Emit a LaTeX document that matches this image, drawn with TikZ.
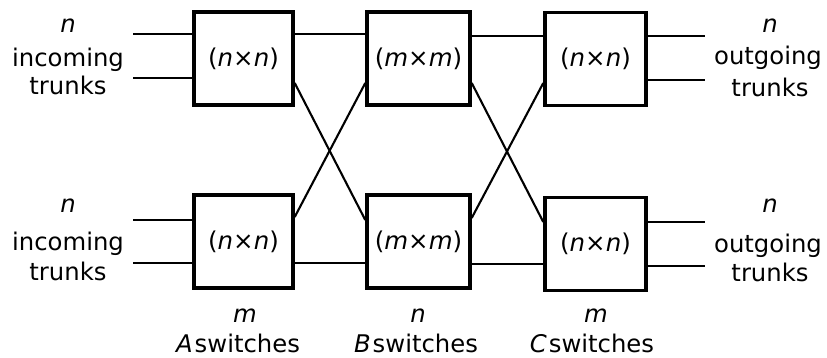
\documentclass[tikz,border=0pt]{standalone}
\usepackage{fontspec}
\setmainfont{DejaVu Sans}
\begin{document}
\begin{tikzpicture}[x=1pt,y=-1pt,
  sw/.style={draw,line width=3.4pt,minimum height=93pt,inner sep=0pt,font=\fontsize{24.5}{28}\selectfont},
  wire/.style={line width=2.1pt},
  lbl/.style={anchor=base,inner sep=0pt,font=\fontsize{24.3}{28}\selectfont}]
\useasboundingbox (0,0) rectangle (827,358);
% switches
\node[sw,minimum width=99pt] (A1) at (243.5,58.5) {(\textit{n}×\textit{n})};
\node[sw,minimum width=103pt] (B1) at (418.5,58.5) {(\textit{m}×\textit{m})};
\node[sw,minimum width=101pt] (C1) at (595.5,59) {(\textit{n}×\textit{n})};
\node[sw,minimum width=99pt] (A2) at (243.5,241.5) {(\textit{n}×\textit{n})};
\node[sw,minimum width=103pt] (B2) at (418.5,241.5) {(\textit{m}×\textit{m})};
\node[sw,minimum width=101pt] (C2) at (595.5,244) {(\textit{n}×\textit{n})};
% free trunk ends
\coordinate (i1) at (133,34);
\coordinate (i2) at (133,78);
\coordinate (i3) at (133,220);
\coordinate (i4) at (133,263);
\coordinate (o1) at (705,36);
\coordinate (o2) at (705,80);
\coordinate (o3) at (705,222);
\coordinate (o4) at (705,266);
% incoming
\draw[wire] (i1) -- (i1 -| A1.west);
\draw[wire] (i2) -- (i2 -| A1.west);
\draw[wire] (i3) -- (i3 -| A2.west);
\draw[wire] (i4) -- (i4 -| A2.west);
% outgoing
\draw[wire] (o1 -| C1.east) -- (o1);
\draw[wire] (o2 -| C1.east) -- (o2);
\draw[wire] (o3 -| C2.east) -- (o3);
\draw[wire] (o4 -| C2.east) -- (o4);
% A to B
\draw[wire] ([yshift=24.5pt]A1.east) -- ([yshift=24.5pt]B1.west);
\draw[wire] ([yshift=-24.5pt]A1.east) -- ([yshift=21.5pt]B2.west);
\draw[wire] ([yshift=24.5pt]A2.east) -- ([yshift=-24.5pt]B1.west);
\draw[wire] ([yshift=-21.5pt]A2.east) -- ([yshift=-21.5pt]B2.west);
% B to C
\draw[wire] ([yshift=22.5pt]B1.east) -- ([yshift=23pt]C1.west);
\draw[wire] ([yshift=-24.5pt]B1.east) -- ([yshift=22pt]C2.west);
\draw[wire] ([yshift=23.5pt]B2.east) -- ([yshift=-24pt]C1.west);
\draw[wire] ([yshift=-22.5pt]B2.east) -- ([yshift=-20pt]C2.west);
% left labels
\node[lbl] (ln1) at (68,33) {\textit{n}};
\node[lbl] (li1) at (68,67) {incoming};
\node[lbl] (lt1) at (68,95) {trunks};
\node[lbl] (ln2) at (68,213) {\textit{n}};
\node[lbl] (li2) at (68,251) {incoming};
\node[lbl] (lt2) at (68,280) {trunks};
% right labels
\node[lbl] (rn1) at (770,33) {\textit{n}};
\node[lbl] (ro1) at (768,65) {outgoing};
\node[lbl] (rt1) at (770,97) {trunks};
\node[lbl] (rn2) at (770,213) {\textit{n}};
\node[lbl] (ro2) at (768,252) {outgoing};
\node[lbl] (rt2) at (770,281) {trunks};
% bottom labels
\node[lbl] (bm1) at (245,322) {\textit{m}};
\node[lbl] (bA) at (238,352) {\textit{A}\hspace{2pt}switches};
\node[lbl] (bn) at (418,322) {\textit{n}};
\node[lbl] (bB) at (416,352) {\textit{B}\hspace{2pt}switches};
\node[lbl] (bm2) at (596,322) {\textit{m}};
\node[lbl] (bC) at (592,352) {\textit{C}\hspace{2pt}switches};
\end{tikzpicture}
\end{document}
